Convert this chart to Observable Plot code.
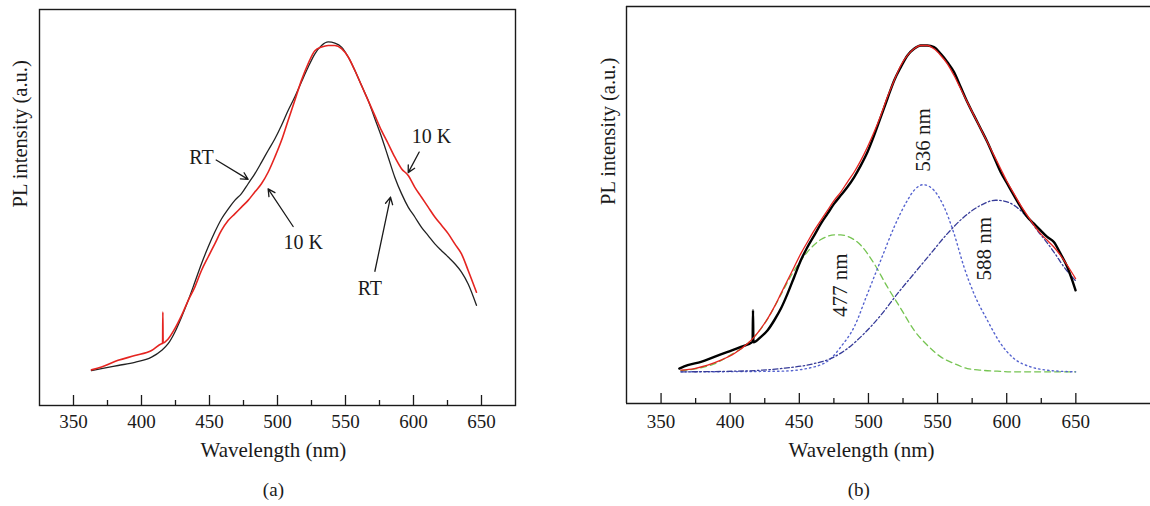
<!DOCTYPE html>
<html><head><meta charset="utf-8">
<script src="https://cdn.jsdelivr.net/npm/d3@7"></script>
<script src="https://cdn.jsdelivr.net/npm/@observablehq/plot@0.6"></script>
<style>
body{margin:0;background:#fff;}
#wrap{display:flex;width:1150px;height:506px;overflow:hidden;}
#wrap > div{width:575px;height:506px;flex:none;}
</style></head><body><div id="wrap"><div id="a"></div><div id="b"></div></div>
<script>
// ---- shared axis content ----
const xDomainA = [325, 675];
const xDomainB = [325, 704];
const majorTicks = [350, 400, 450, 500, 550, 600, 650];
const minorTicks = [375, 425, 475, 525, 575, 625];
const xLabel = "Wavelength (nm)";
const yLabel = "PL intensity (a.u.)";
const captions = ["(a)", "(b)"];

// ---- panel (a): [wavelength nm, intensity a.u.] ----
const rtA = [[363.2,8.8],[370.6,9.3],[382.8,10.1],[395.1,10.9],[407.4,12.2],[414.7,13.9],[419.6,15.6],[424.5,18.5],[429.4,22.3],[434.3,26.5],[439.2,31.1],[444.1,35.8],[449.0,40.0],[453.9,43.8],[458.8,47.1],[463.7,49.6],[468.6,51.8],[473.5,53.5],[478.4,56.0],[483.3,58.5],[488.2,61.4],[493.1,64.4],[498.0,67.3],[502.9,70.7],[507.8,74.5],[512.7,77.9],[517.6,81.7],[522.5,85.4],[527.5,88.8],[532.4,90.9],[537.3,91.8],[542.2,91.5],[547.1,90.5],[552.0,88.0],[556.9,84.6],[561.8,80.8],[566.7,77.0],[571.6,72.4],[576.5,67.8],[581.4,62.7],[586.3,57.6],[591.2,53.5],[596.1,50.1],[601.0,47.6],[605.9,45.0],[610.8,42.9],[615.7,40.8],[620.6,39.1],[625.5,37.5],[630.4,35.8],[635.3,33.7],[640.2,30.7],[646.3,25.3]];
const k10A = [[363.2,9.0],[370.6,9.7],[382.8,11.4],[395.1,12.6],[407.4,13.9],[414.7,15.6],[415.5,15.7],[415.7,23.6],[415.9,15.8],[419.6,16.8],[424.5,19.4],[429.4,22.7],[434.3,26.5],[439.2,29.9],[444.1,34.1],[449.0,37.5],[453.9,40.8],[458.8,44.2],[463.7,46.7],[468.6,48.4],[473.5,50.1],[478.4,51.8],[483.3,53.9],[488.2,56.0],[493.1,58.9],[498.0,62.7],[502.9,66.9],[507.8,72.0],[512.7,77.0],[517.6,82.1],[522.5,86.3],[527.5,89.6],[532.4,90.5],[537.3,90.9],[542.2,90.9],[547.1,90.1],[552.0,88.0],[556.9,84.6],[561.8,80.8],[566.7,77.0],[571.6,73.2],[576.5,69.4],[581.4,66.1],[586.3,62.7],[591.2,59.8],[596.1,58.1],[601.0,55.1],[605.9,52.6],[610.8,50.1],[615.7,47.6],[620.6,45.5],[625.5,43.4],[630.4,40.8],[635.3,38.3],[640.2,34.1],[646.3,28.6]];
const labelsA = [["RT",444.1,62.7],["10 K",518.9,41.2],["10 K",613.2,67.9],["RT",567.9,29.5]];
const arrowsA = [[454.9,62.0,478.4,57.1],[511.5,45.2,493.1,54.7],[604.2,64.0,596.1,58.8],[571.6,33.9,583.1,52.6]];

// ---- panel (b) ----
const dataB = [[363.2,8.81],[369.3,9.65],[378.9,10.49],[388.5,11.74],[398.2,13.0],[407.8,14.26],[416.2,15.52],[416.5,23.49],[416.8,15.4],[422.2,16.78],[427.1,18.46],[431.9,20.97],[436.7,23.91],[441.5,27.68],[446.3,31.88],[451.1,36.07],[455.9,39.43],[460.8,42.36],[465.6,45.30],[470.4,47.82],[475.2,50.34],[480.0,52.43],[484.8,54.53],[489.7,57.05],[494.5,59.98],[499.3,63.34],[504.1,67.53],[508.9,72.15],[513.7,76.76],[518.6,81.38],[523.4,84.73],[528.2,87.67],[533.0,89.35],[537.8,90.18],[542.6,90.18],[547.4,89.77],[552.3,88.09],[557.1,85.99],[561.9,83.47],[566.7,79.70],[571.5,75.92],[576.3,72.57],[581.2,69.21],[586.0,65.86],[590.8,62.08],[595.6,58.31],[600.4,55.37],[605.2,52.43],[610.1,49.50],[614.9,46.98],[619.7,45.30],[624.5,43.62],[629.3,41.95],[634.1,40.69],[638.9,37.75],[643.8,34.40],[647.4,31.04],[649.8,28.52]];
const fitB = [[364.4,8.39],[374.1,8.81],[383.7,9.65],[393.3,10.91],[403.0,12.58],[412.6,15.10],[417.4,16.78],[422.2,18.88],[427.1,21.39],[431.9,24.33],[436.7,27.68],[441.5,31.04],[446.3,34.40],[451.1,37.75],[455.9,40.69],[460.8,43.62],[465.6,46.14],[470.4,48.66],[475.2,51.17],[480.0,53.27],[484.8,55.79],[489.7,58.31],[494.5,61.24],[499.3,64.60],[504.1,68.37],[508.9,72.57],[513.7,77.18],[518.6,81.38],[523.4,85.15],[528.2,87.67],[533.0,89.35],[537.8,90.18],[542.6,90.18],[547.4,89.35],[552.3,87.67],[557.1,85.57],[561.9,82.63],[566.7,79.28],[571.5,75.92],[576.3,72.57],[581.2,69.21],[586.0,65.86],[590.8,62.50],[595.6,59.14],[600.4,55.79],[605.2,52.85],[610.1,49.92],[614.9,47.40],[619.7,44.88],[624.5,42.79],[629.3,41.11],[634.1,39.43],[638.9,37.33],[643.8,34.82],[649.8,31.46]];
const peak477 = [[364.4,8.3],[376.5,8.8],[388.5,10.0],[400.6,12.3],[412.6,15.1],[424.6,20.0],[436.7,27.4],[441.5,30.6],[446.3,33.5],[451.1,36.0],[455.9,38.2],[460.8,40.0],[465.6,41.3],[470.4,42.1],[475.2,42.5],[480.0,42.5],[484.8,42.1],[494.5,39.85],[504.1,35.23],[513.7,29.36],[523.4,23.91],[533.0,18.46],[542.6,14.68],[552.3,11.74],[561.9,10.07],[571.5,8.81],[581.2,8.39],[593.2,8.14],[605.2,7.97],[649.8,7.97]];
const peak536 = [[364.4,7.97],[436.7,8.14],[460.8,9.23],[472.8,11.33],[480.0,14.26],[489.7,19.30],[499.3,27.68],[508.9,36.07],[518.6,44.46],[528.2,51.17],[533.0,53.69],[539.7,55.12],[547.4,53.69],[554.7,49.50],[561.9,42.79],[569.1,34.40],[576.3,27.68],[586.0,20.97],[595.6,15.10],[605.2,11.33],[617.3,9.23],[629.3,8.39],[649.8,7.97]];
const peak588 = [[364.4,7.97],[412.6,8.22],[436.7,8.81],[460.8,10.07],[472.8,11.33],[484.8,13.84],[496.9,17.62],[508.9,22.23],[521.0,27.68],[533.0,32.72],[545.0,37.75],[557.1,42.79],[569.1,46.98],[581.2,49.92],[592.0,51.2],[598.0,51.0],[605.0,50.0],[611.0,48.3],[617.0,46.0],[623.0,43.2],[629.0,40.6],[635.0,37.7],[641.0,34.6],[649.8,30.9]];
const labelsB = [["536 nm",539.5,66.4],["588 nm",583.5,39.0],["477 nm",479.5,29.8]];

const pts = a => a.map(([x, y]) => ({x, y}));
const font = "'Liberation Serif','Times New Roman',serif";
const ink = "#1a1a1a";

function axisMarks(innerH, pad) {
  return [
    Plot.ruleX(majorTicks, {stroke: ink, strokeWidth: 1.3, insetTop: innerH - 10}),
    Plot.ruleX(minorTicks, {stroke: ink, strokeWidth: 1.3, insetTop: innerH - 5}),
    Plot.axisX({ticks: majorTicks, tickSize: 0, tickPadding: pad, label: null, tickFormat: d => String(d), fontSize: 19})
  ];
}

// ---- panel (a) ----
const mA = {top: 9, bottom: 101, left: 39, right: 60};
const hA = 506 - mA.top - mA.bottom;
const plotA = Plot.plot({
  width: 575, height: 506,
  marginTop: mA.top, marginBottom: mA.bottom, marginLeft: mA.left, marginRight: mA.right,
  x: {domain: xDomainA},
  y: {domain: [0, 100], axis: null},
  style: {fontFamily: font, fontSize: "19px", color: ink, background: "white"},
  marks: [
    ...axisMarks(hA, 9),
    Plot.line(pts(rtA), {x: "x", y: "y", stroke: "#222", strokeWidth: 1.3, curve: "monotone-x"}),
    Plot.line(pts(k10A), {x: "x", y: "y", stroke: "#e52420", strokeWidth: 1.6, curve: "monotone-x"}),
    Plot.arrow(arrowsA, {x1: d => d[0], y1: d => d[1], x2: d => d[2], y2: d => d[3], stroke: ink, strokeWidth: 1.3, headLength: 9, headAngle: 55}),
    Plot.text(labelsA, {x: d => d[1], y: d => d[2], text: d => d[0], fontSize: 20, fill: ink}),
    Plot.text([yLabel], {frameAnchor: "left", rotate: -90, dx: -19, text: d => d, fontSize: 20.5, fill: ink}),
    Plot.text([xLabel], {x: [497], frameAnchor: "bottom", dy: 51, text: d => d, fontSize: 21, fill: ink}),
    Plot.text([captions[0]], {x: [497], frameAnchor: "bottom", dy: 90, text: d => d, fontSize: 19, fill: ink}),
    Plot.frame({stroke: ink, strokeWidth: 1.4})
  ]
});
document.getElementById("a").append(plotA);

// ---- panel (b) ----
const mB = {top: 6, bottom: 103, left: 51, right: 0};
const hB = 506 - mB.top - mB.bottom;
const plotB = Plot.plot({
  width: 575, height: 506,
  marginTop: mB.top, marginBottom: mB.bottom, marginLeft: mB.left, marginRight: mB.right,
  x: {domain: xDomainB},
  y: {domain: [0, 100], axis: null},
  style: {fontFamily: font, fontSize: "19px", color: ink, background: "white"},
  marks: [
    ...axisMarks(hB, 11),
    Plot.line(pts(peak477), {x: "x", y: "y", stroke: "#76c452", strokeWidth: 1.3, strokeDasharray: "6,4", curve: "monotone-x"}),
    Plot.line(pts(peak536), {x: "x", y: "y", stroke: "#5563cf", strokeWidth: 1.4, strokeDasharray: "1.4,3.2", strokeLinecap: "round", curve: "monotone-x"}),
    Plot.line(pts(peak588), {x: "x", y: "y", stroke: "#363b98", strokeWidth: 1.3, strokeDasharray: "5,2.5,1.5,2.5", curve: "monotone-x"}),
    Plot.line(pts(dataB), {x: "x", y: "y", stroke: "#000", strokeWidth: 2.4, curve: "monotone-x"}),
    Plot.line(pts(fitB), {x: "x", y: "y", stroke: "#e52420", strokeWidth: 1.3, curve: "monotone-x"}),
    Plot.text(labelsB, {x: d => d[1], y: d => d[2], text: d => d[0], rotate: -90, fontSize: 21, fill: ink}),
    Plot.text([yLabel], {frameAnchor: "left", rotate: -90, dx: -18, text: d => d, fontSize: 20.5, fill: ink}),
    Plot.text([xLabel], {x: [495], frameAnchor: "bottom", dy: 53, text: d => d, fontSize: 21, fill: ink}),
    Plot.text([captions[1]], {x: [493], frameAnchor: "bottom", dy: 92, text: d => d, fontSize: 19, fill: ink}),
    Plot.ruleY([0, 100], {stroke: ink, strokeWidth: 1.4}),
    Plot.ruleX([xDomainB[0]], {stroke: ink, strokeWidth: 1.4})
  ]
});
document.getElementById("b").append(plotB);
</script>
</body></html>
